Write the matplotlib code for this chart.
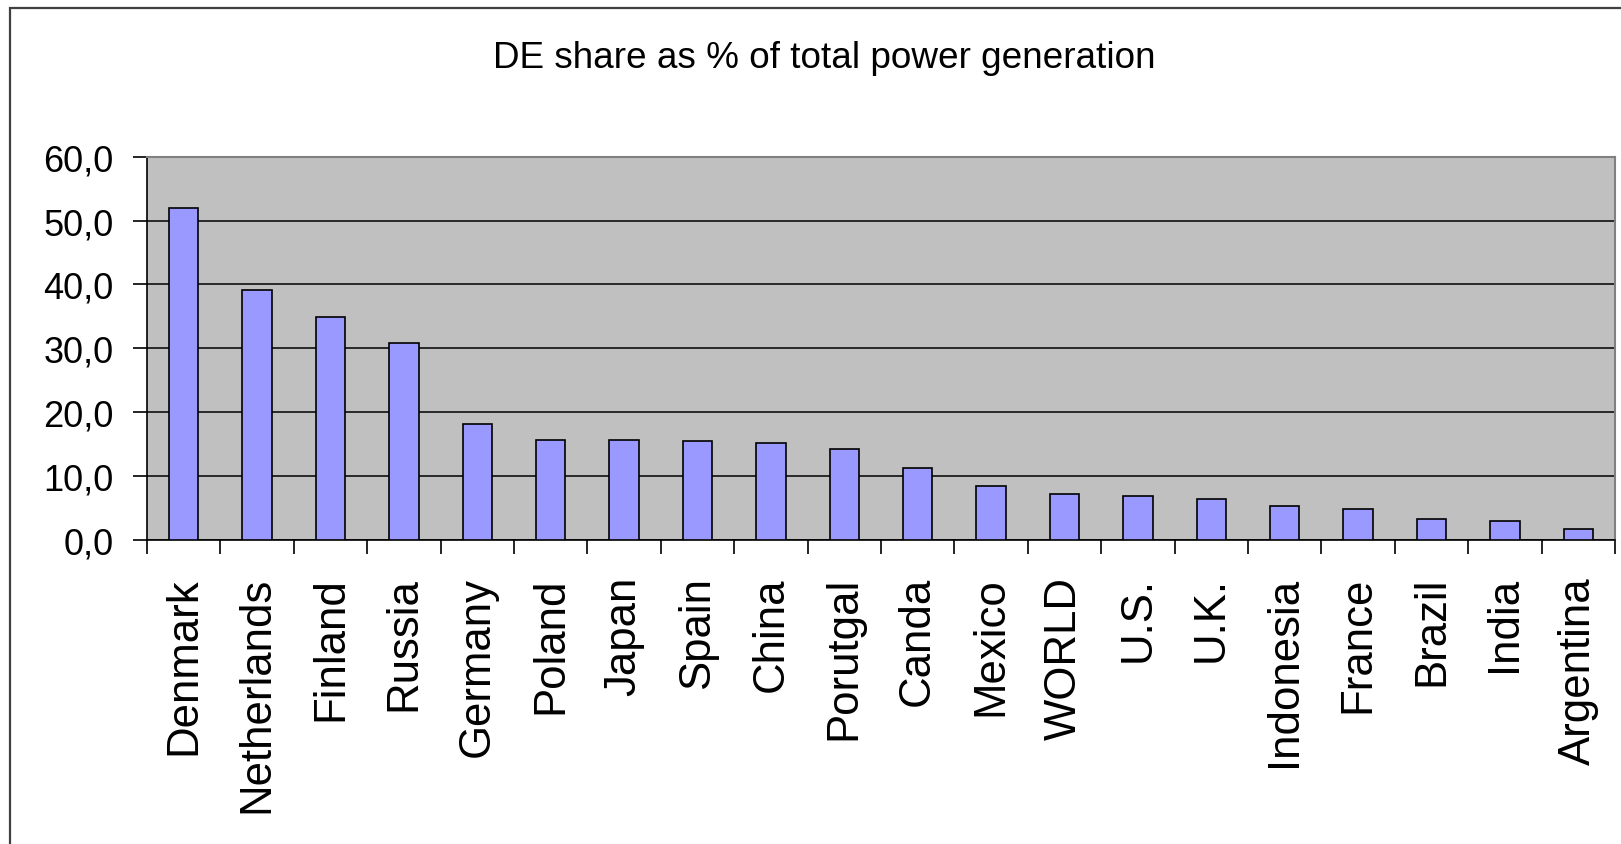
import matplotlib
matplotlib.use("Agg")
import matplotlib.pyplot as plt
from matplotlib.patches import Rectangle
from matplotlib.ticker import FixedLocator, FuncFormatter, MultipleLocator

countries = ["Denmark", "Netherlands", "Finland", "Russia", "Germany", "Poland",
             "Japan", "Spain", "China", "Porutgal", "Canda", "Mexico", "WORLD",
             "U.S.", "U.K.", "Indonesia", "France", "Brazil", "India", "Argentina"]
shares = [51.9, 39.1, 34.9, 30.9, 18.2, 15.7, 15.7, 15.5, 15.2, 14.2, 11.2, 8.45,
          7.2, 6.95, 6.4, 5.4, 4.8, 3.3, 3.0, 1.8]
title = "DE share as % of total power generation"
y_max = 60
y_step = 10

plt.rcParams['font.family'] = ['Liberation Sans', 'DejaVu Sans']

W, H = 1621, 845
fig = plt.figure(figsize=(W / 100, H / 100), dpi=100)
fig.patch.set_facecolor("white")

# outer chart frame (extends past the right and bottom edges)
fig.patches.append(Rectangle((10 / W, -0.05), 1.2, 1 - 9 / H + 0.05,
                             transform=fig.transFigure, fill=False,
                             edgecolor="#404040", linewidth=1.6, zorder=0))

left, right, top, bottom = 147, 1615, 157.7, 541
ax = fig.add_axes([left / W, 1 - bottom / H, (right - left) / W, (bottom - top) / H])
ax.set_facecolor("#C0C0C0")

x = list(range(len(countries)))
ax.bar(x, shares, width=0.40, color="#9999FF", edgecolor="black",
       linewidth=1.2, zorder=3)

ax.set_xlim(-0.5, len(countries) - 0.5)
ax.set_ylim(0, y_max)
ax.yaxis.set_major_locator(MultipleLocator(y_step))
ax.yaxis.set_major_formatter(FuncFormatter(lambda v, p: f"{v:.1f}".replace(".", ",")))
ax.grid(axis="y", color="black", linewidth=1.1, zorder=1)
ax.set_axisbelow(True)

# x ticks between categories, labels at category centres
ax.xaxis.set_major_locator(FixedLocator([i - 0.5 for i in range(len(countries) + 1)]))
ax.xaxis.set_major_formatter(FuncFormatter(lambda v, p: ""))
ax.xaxis.set_minor_locator(FixedLocator(x))
ax.set_xticklabels(countries, minor=True, rotation=90, fontsize=31.5, va="top")
ax.tick_params(axis="x", which="minor", length=0, pad=26)
ax.tick_params(axis="x", which="major", length=10, width=1.2, color="black", direction="out")
ax.tick_params(axis="y", length=10, width=1.2, color="black", direction="out",
               labelsize=26, pad=14)

for s in ["left", "bottom"]:
    ax.spines[s].set_color("black")
    ax.spines[s].set_linewidth(1.2)
for s in ["top", "right"]:
    ax.spines[s].set_color("#808080")
    ax.spines[s].set_linewidth(1.5)

fig.text(824 / W, 1 - 68.3 / H, title, ha="center", va="baseline", fontsize=26.6)

fig.savefig("out.png", dpi=100)
